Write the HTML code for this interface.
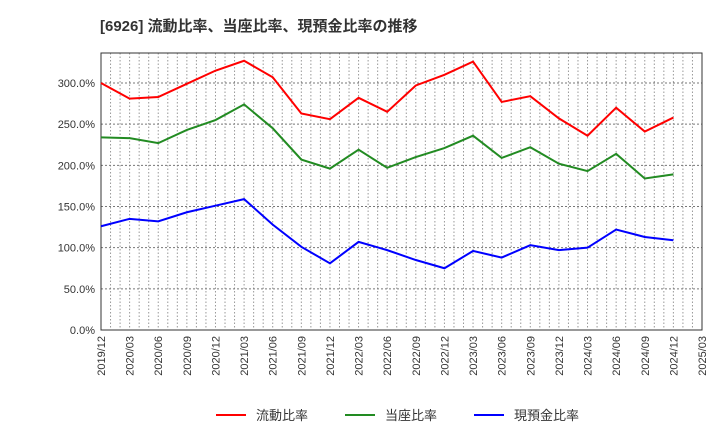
<!DOCTYPE html>
<html><head><meta charset="utf-8"><style>
body{margin:0;background:#fff;font-family:"Liberation Sans","Noto Sans CJK JP",sans-serif;}
</style></head><body>
<svg width="720" height="440" xmlns="http://www.w3.org/2000/svg" id="chart">
<text x="100" y="31" font-size="15" font-weight="bold" fill="#333" font-family="Liberation Sans, Noto Sans CJK JP, sans-serif">[6926]  流動比率、当座比率、現預金比率の推移</text>
<g id="grid"></g><g id="axes"></g><g id="series"></g><g id="legend"></g>
</svg>
<script>
const xLabels=["2019/12","2020/03","2020/06","2020/09","2020/12","2021/03","2021/06","2021/09","2021/12","2022/03","2022/06","2022/09","2022/12","2023/03","2023/06","2023/09","2023/12","2024/03","2024/06","2024/09","2024/12","2025/03"];
const yTicks=[0,50,100,150,200,250,300];
const current=[300,281,283,299,315,327,307,263,256,282,265,297,310,326,277,284,257,236,270,241,258];
const quick=[234,233,227,243,255,274,245,207,196,219,197,210,221,236,209,222,202,193,214,184,189];
const cash=[126,135,132,143,151,159,128,101,81,107,97,85,75,96,88,103,97,100,122,113,109];
const names=["流動比率","当座比率","現預金比率"];
const colors=["#ff0000","#228b22","#0000ff"];
const L=101,R=702,T=53,B=330;
const q=(R-L)/21;
const X=i=>L+i*q;
const Y=v=>B-v*(B-83)/300;
const ns="http://www.w3.org/2000/svg";
function mk(tag,parent,attrs){const e=document.createElementNS(ns,tag);for(const k in attrs)e.setAttribute(k,attrs[k]);document.getElementById(parent).appendChild(e);return e;}
for(let m=1;m<63;m++){const x=L+m*q/3;
const g=mk('line','grid',{x1:x,x2:x,y1:T,y2:B,stroke:'#999','stroke-dasharray':'1.5,2','stroke-width':1});

}
yTicks.forEach(v=>{const y=Y(v);
if(v>0){const g=mk('line','grid',{x1:L,x2:R,y1:y,y2:y,stroke:'#777','stroke-dasharray':'2,2','stroke-width':1});

}
const t=mk('text','axes',{x:L-6,y:y+4,'text-anchor':'end','font-size':11,fill:'#333'});t.textContent=v.toFixed(1)+'%';

});
const fr=mk('rect','axes',{x:L,y:T,width:R-L,height:B-T,fill:'none',stroke:'#333','stroke-width':1});


xLabels.forEach((s,i)=>{const x=X(i);const t=mk('text','axes',{x:x+4,y:B+6,'text-anchor':'end','font-size':11,fill:'#333',transform:`rotate(-90 ${x+4} ${B+6})`});t.textContent=s;

});
[current,quick,cash].forEach((d,k)=>{const p=mk('polyline','series',{points:d.map((v,i)=>X(i)+','+Y(v)).join(' '),fill:'none',stroke:colors[k],'stroke-width':2});

});
const lx=[216,345,474];
names.forEach((n,k)=>{const l=mk('line','legend',{x1:lx[k],x2:lx[k]+30,y1:415,y2:415,stroke:colors[k],'stroke-width':2});


const t=mk('text','legend',{x:lx[k]+40,y:420,'font-size':13,fill:'#333'});t.textContent=n;

});
</script>
</body></html>
